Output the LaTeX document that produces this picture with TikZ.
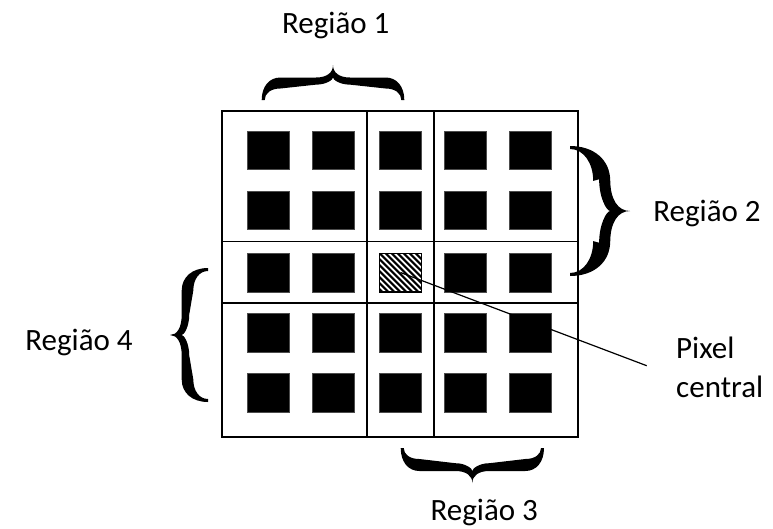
\documentclass[tikz,border=0pt]{standalone}
\usepackage{fontspec}
\setmainfont{Carlito}
\newcommand{\calbrace}[7]{%
 \begin{scope}[shift={(#1,#2)},rotate=#3,x=1pt,y=1pt]
 \pgfmathsetmacro{\bL}{#4}\pgfmathsetmacro{\bH}{#5}%
 \pgfmathsetmacro{\ba}{#6}\pgfmathsetmacro{\bt}{#7}%
 \pgfmathsetmacro{\bM}{\bL/2}\pgfmathsetmacro{\bs}{1.1*\ba}%
 \pgfmathsetmacro{\br}{\ba}\pgfmathsetmacro{\bw}{3}%
 \pgfmathsetmacro{\bU}{\ba+\bt/2}\pgfmathsetmacro{\bD}{\ba-\bt/2}%
 \pgfmathsetmacro{\bDt}{\ba-\bt/2+0.35*\bt}%
 \fill (0,0) .. controls (0,{0.6*\bU}) and ({0.4*\bs},\bU) .. (\bs,\bU)
  -- ({\bM-\br},\bU)
  .. controls ({\bM-0.35*\br},\bU) and (\bM,{\bU+0.4*(\bH-\bU)}) .. (\bM,\bH)
  .. controls (\bM,{\bU+0.4*(\bH-\bU)}) and ({\bM+0.35*\br},\bU) .. ({\bM+\br},\bU)
  -- ({\bL-\bs},\bU)
  .. controls ({\bL-0.4*\bs},\bU) and (\bL,{0.6*\bU}) .. (\bL,0)
  -- ({\bL-\bw},0)
  .. controls ({\bL-\bw},{0.6*\bD}) and ({\bL-0.5*\bs},\bD) .. ({\bL-\bs},\bD)
  -- ({\bM+\br},\bDt)
  .. controls ({\bM+0.4*\br},\bDt) and (\bM,{\bU-0.2*\bt}) .. (\bM,\bU)
  .. controls (\bM,{\bU-0.2*\bt}) and ({\bM-0.4*\br},\bDt) .. ({\bM-\br},\bDt)
  -- (\bs,\bD)
  .. controls ({0.5*\bs},\bD) and (\bw,{0.6*\bD}) .. (\bw,0)
  -- cycle;
 \end{scope}}
\tikzset{
 lbl/.style={font=\fontsize{31}{38}\selectfont, inner sep=0pt},
 pix/.style={fill=black, draw=black!70, line width=0.4pt, minimum width=41.7pt, minimum height=38.5pt, inner sep=0pt},
 gridline/.style={line width=1.5pt},
 hatched/.style={draw=black, fill=white, line width=1.5pt, minimum width=41.7pt, minimum height=38.5pt, inner sep=0pt,
   path picture={\foreach \k in {-9,...,9}{\draw[line width=2pt] ([xshift=\k*6pt]path picture bounding box.north west) -- ++(50pt,-50pt);}}},
 leader/.style={line width=1.2pt}
}
\begin{document}
\begin{tikzpicture}[x=1pt,y=-1pt]
\useasboundingbox (0,0) rectangle (773,528);
% grid
\coordinate (g-nw) at (222,111);
\coordinate (g-se) at (578,437);
\draw[gridline] (g-nw) rectangle (g-se);
\draw[gridline] (367,111) -- (367,437);
\draw[gridline] (434,111) -- (434,437);
\draw[gridline] (222,241.5) -- (578,241.5);
\draw[gridline] (222,303) -- (578,303);
% pixels
\foreach \cx [count=\ci] in {268.15,333.15,400.5,465.5,530.5}{
 \foreach \cy [count=\ri] in {150,210.15,272.5,332.5,392.65}{
  \ifnum\ci=3 \ifnum\ri=3 \else
   \node[pix] (p-\ri-\ci) at (\cx,\cy) {};
  \fi\else
   \node[pix] (p-\ri-\ci) at (\cx,\cy) {};
  \fi
 }}
\node[hatched] (c) at (400.5,272.5) {};
% leader
\coordinate (e) at (646.7,365.7);
\draw[leader] (c.center) -- (e);
% braces
\calbrace{261.7}{100}{0}{142.6}{35}{17}{11}
\calbrace{570}{146}{-90}{130}{60}{31.7}{17}
\calbrace{544}{448}{180}{143.3}{35}{17}{12}
\calbrace{208}{402}{90}{134}{38}{20.5}{11.6}
% labels
\node[lbl, anchor=base] (r1) at (335.8,33.3) {Região 1};
\node[lbl, anchor=base] (r2) at (707,221.7) {Região 2};
\node[lbl, anchor=base] (r3) at (484.3,520.3) {Região 3};
\node[lbl, anchor=base] (r4) at (79,350) {Região 4};
\node[lbl, anchor=base west] (pc1) at (676,358.3) {Pixel};
\node[lbl, anchor=base west] (pc2) at (676,397.3) {central};
\end{tikzpicture}
\end{document}
